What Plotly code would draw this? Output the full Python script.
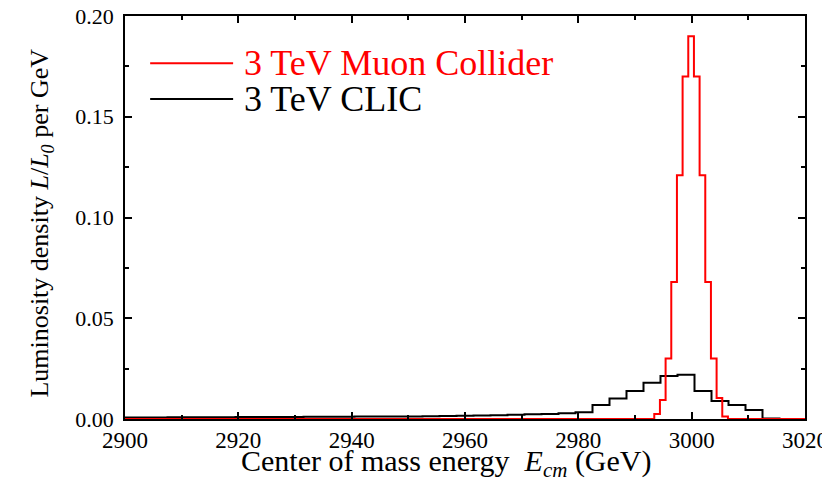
import plotly.graph_objects as go

# ---- Data ----
# 3 TeV Muon Collider: 1 GeV bins (edges) and luminosity density values
muon_edges = [2993.4, 2994.4, 2995.4, 2996.4, 2997.4, 2998.4, 2999.4, 3000.4,
              3001.4, 3002.4, 3003.4, 3004.4, 3005.4, 3006.4]
muon_vals = [0.0025, 0.0094, 0.030, 0.068, 0.121, 0.170, 0.190, 0.170,
             0.121, 0.068, 0.030, 0.0104, 0.0012]

# 3 TeV CLIC: 3 GeV bins (centers) and luminosity density values
clic_centers = [2900, 2903, 2906, 2909, 2912, 2915, 2918, 2921, 2924, 2927,
                2930, 2933, 2936, 2939, 2942, 2945, 2948, 2951, 2954, 2957,
                2960, 2963, 2966, 2969, 2972, 2975, 2978, 2981, 2984, 2987,
                2990, 2993, 2996, 2999, 3002, 3005, 3008, 3011, 3014]
clic_vals = [0.0008, 0.0008, 0.0008, 0.0009, 0.0009, 0.0009, 0.0009, 0.0010,
             0.0010, 0.0010, 0.0010, 0.0011, 0.0011, 0.0011, 0.0012, 0.0012,
             0.0013, 0.0013, 0.0014, 0.0015, 0.0016, 0.0017, 0.0019, 0.0021,
             0.0023, 0.0025, 0.0028, 0.0034, 0.0070, 0.0102, 0.0139, 0.0180,
             0.0213, 0.0220, 0.0139, 0.0089, 0.0069, 0.0045, 0.0003]
clic_bin_width = 3

x_range = [2900, 3020]
y_range = [0, 0.20]
x_ticks = [2900, 2920, 2940, 2960, 2980, 3000, 3020]
y_ticks = [0.00, 0.05, 0.10, 0.15, 0.20]
legend_labels = ["3 TeV Muon Collider", "3 TeV CLIC"]
x_title = "Center of mass energy  <i>E</i><sub><i>cm</i></sub> (GeV)"
y_title = "Luminosity density <i>L</i>/<i>L</i><sub><i>0</i></sub> per GeV"

# ---- Build step traces ----
mx = [x_range[0]] + muon_edges + [x_range[1]]
my = [0] + muon_vals + [0, 0]

half = clic_bin_width / 2
cx = [c - half for c in clic_centers] + [clic_centers[-1] + half]
cy = clic_vals + [0]

FONT = "Liberation Serif"

fig = go.Figure()
fig.add_trace(go.Scatter(x=cx, y=cy, mode="lines", line=dict(color="black", width=2, shape="hv"),
                         name=legend_labels[1]))
fig.add_trace(go.Scatter(x=mx, y=my, mode="lines", line=dict(color="#ff0000", width=2, shape="hv"),
                         name=legend_labels[0]))

# manual legend
leg_y = [0.883, 0.794]
leg_col = ["#ff0000", "black"]
for lab, yy, col in zip(legend_labels, leg_y, leg_col):
    fig.add_shape(type="line", xref="paper", yref="paper", x0=0.037, x1=0.159, y0=yy, y1=yy,
                  line=dict(color=col, width=2))
    fig.add_annotation(xref="paper", yref="paper", x=0.172, y=yy, text=lab, showarrow=False,
                       xanchor="left", yanchor="middle", font=dict(family=FONT, size=36, color=col))

# axis titles as annotations (x title sits a little left of centre in the reference)
fig.add_annotation(xref="paper", yref="paper", x=0.473, y=-0.108, text=x_title, showarrow=False,
                   xanchor="center", yanchor="middle", font=dict(family=FONT, size=30, color="black"))
fig.add_annotation(xref="paper", yref="paper", x=-0.1235, y=0.485, text=y_title, showarrow=False,
                   textangle=-90, xanchor="center", yanchor="middle",
                   font=dict(family=FONT, size=26, color="black"))

fig.update_layout(
    width=822, height=476,
    margin=dict(l=117, r=25, t=8, b=65, autoexpand=False),
    paper_bgcolor="white", plot_bgcolor="white",
    showlegend=False,
    font=dict(family=FONT, color="black"),
)
fig.update_xaxes(
    range=x_range, tickvals=x_ticks, ticktext=[str(t) for t in x_ticks],
    showgrid=False, zeroline=False, automargin=False,
    showline=True, linecolor="black", linewidth=1.5, mirror="ticks",
    ticks="inside", ticklen=7, tickwidth=1.5, tickcolor="black",
    minor=dict(ticks="inside", ticklen=4, tickwidth=1.5, tickcolor="black", dtick=10),
    tickfont=dict(family=FONT, size=23),
    ticklabelstandoff=0, ticklabeloverflow="allow",
)
fig.update_yaxes(
    range=y_range, tickvals=y_ticks, ticktext=["%.2f" % t for t in y_ticks],
    showgrid=False, zeroline=False, automargin=False,
    showline=True, linecolor="black", linewidth=1.5, mirror="ticks",
    ticks="inside", ticklen=7, tickwidth=1.5, tickcolor="black",
    minor=dict(ticks="inside", ticklen=4, tickwidth=1.5, tickcolor="black", dtick=0.025),
    tickfont=dict(family=FONT, size=22),
    ticklabelstandoff=5, ticklabeloverflow="allow",
)

fig.write_html("out.html")
